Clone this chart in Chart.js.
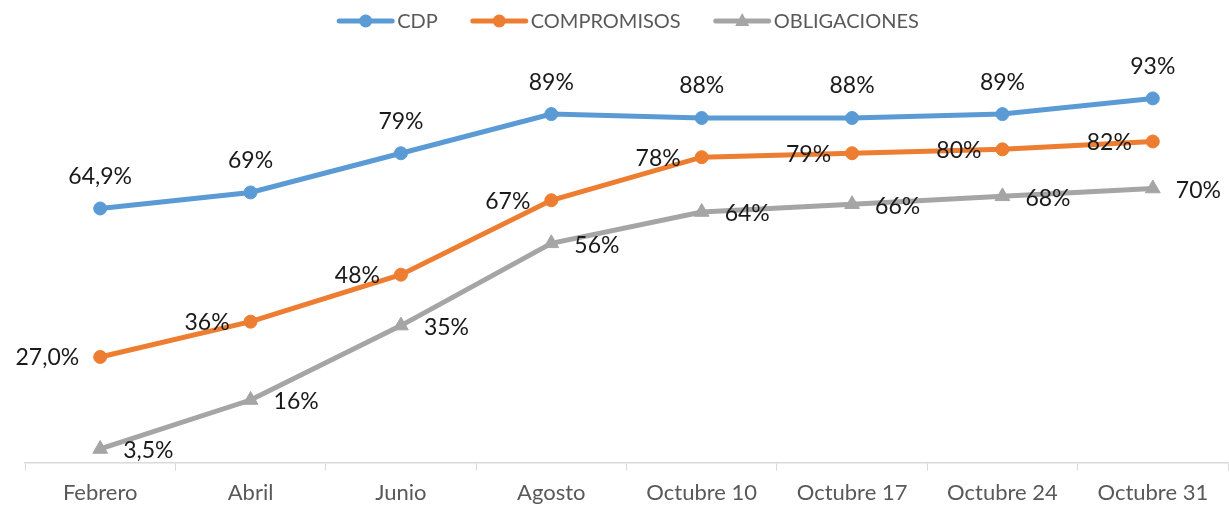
<!DOCTYPE html>
<html>
<head>
<meta charset="utf-8">
<script src="https://cdn.jsdelivr.net/npm/chart.js@4"></script>
<style>
html,body{margin:0;padding:0;background:#fff;overflow:hidden;}
#wrap{width:1229px;height:506px;}
canvas{display:block;}
</style>
</head>
<body>
<div id="wrap"><canvas id="c" width="1229" height="506"></canvas></div>
<script>
const categories = ["Febrero","Abril","Junio","Agosto","Octubre 10","Octubre 17","Octubre 24","Octubre 31"];
const cdp = [64.9, 69, 79, 89, 88, 88, 89, 93];
const compromisos = [27.0, 36, 48, 67, 78, 79, 80, 82];
const obligaciones = [3.5, 16, 35, 56, 64, 66, 68, 70];
const seriesNames = ["CDP","COMPROMISOS","OBLIGACIONES"];

function fmt(v, i){
  if (i === 0) return v.toFixed(1).replace('.', ',') + '%';
  return Math.round(v) + '%';
}

const labelPlugin = {
  id: 'valLabels',
  afterDatasetsDraw(chart){
    const ctx = chart.ctx;
    ctx.save();
    ctx.font = '23px Lato';
    ctx.fillStyle = '#1a1a1a';
    chart.data.datasets.forEach((ds, di) => {
      const meta = chart.getDatasetMeta(di);
      meta.data.forEach((pt, i) => {
        const t = fmt(ds.data[i], i);
        if (ds.labelPos === 'top'){
          ctx.textAlign = 'center'; ctx.textBaseline = 'middle';
          ctx.fillText(t, pt.x, pt.y - 32);
        } else if (ds.labelPos === 'left'){
          ctx.textAlign = 'right'; ctx.textBaseline = 'middle';
          ctx.fillText(t, pt.x - 21, pt.y + 1);
        } else {
          ctx.textAlign = 'left'; ctx.textBaseline = 'middle';
          ctx.fillText(t, pt.x + 23, pt.y + 2);
        }
      });
    });
    ctx.restore();
  }
};

const legendPlugin = {
  id: 'customLegend',
  afterDraw(chart){
    const ctx = chart.ctx;
    ctx.save();
    ctx.font = '20px Lato';
    const lineW = 57, gapText = 3, gapItem = 33;
    const items = chart.data.datasets.map(ds => ({ds, w: lineW + gapText + ctx.measureText(ds.label).width}));
    const total = items.reduce((a, b) => a + b.w, 0) + gapItem * (items.length - 1);
    let x = 628 - total / 2;
    const y = 21;
    items.forEach(it => {
      const ds = it.ds;
      ctx.strokeStyle = ds.borderColor;
      ctx.lineWidth = 5;
      ctx.lineCap = 'round';
      ctx.beginPath(); ctx.moveTo(x + 2, y); ctx.lineTo(x + lineW - 2, y); ctx.stroke();
      ctx.fillStyle = ds.borderColor;
      const cx = x + lineW / 2;
      ctx.beginPath();
      if (ds.pointStyle === 'triangle'){
        ctx.moveTo(cx, y - 8); ctx.lineTo(cx + 7, y + 5); ctx.lineTo(cx - 7, y + 5); ctx.closePath();
      } else {
        ctx.arc(cx, y, 6.5, 0, Math.PI * 2);
      }
      ctx.fill();
      ctx.fillStyle = '#595959';
      ctx.textAlign = 'left'; ctx.textBaseline = 'middle';
      ctx.fillText(ds.label, x + lineW + gapText, y + 1);
      x += it.w + gapItem;
    });
    ctx.restore();
  }
};

function mk(label, data, color, style, pos, radius){
  return {
    label, data, borderColor: color, backgroundColor: color,
    borderWidth: 5, pointStyle: style, pointRadius: radius, pointHoverRadius: radius,
    pointBorderWidth: 1, pointBackgroundColor: color, pointBorderColor: color,
    tension: 0, fill: false, labelPos: pos, clip: false
  };
}

new Chart(document.getElementById('c'), {
  type: 'line',
  data: {
    labels: categories,
    datasets: [
      mk(seriesNames[0], cdp, '#5B9BD5', 'circle', 'top', 6.5),
      mk(seriesNames[1], compromisos, '#ED7D31', 'circle', 'left', 6.5),
      mk(seriesNames[2], obligaciones, '#A5A5A5', 'triangle', 'right', 8.5)
    ]
  },
  options: {
    responsive: false,
    animation: false,
    layout: { autoPadding: false, padding: { top: 71, left: 25, right: 1, bottom: 0 } },
    plugins: { legend: { display: false }, tooltip: { enabled: false } },
    scales: {
      x: {
        offset: true,
        grid: { display: true, drawOnChartArea: false, drawTicks: true, tickLength: 8, color: '#d9d9d9', lineWidth: 1, offset: true },
        border: { display: true, color: '#d9d9d9', width: 1.5 },
        ticks: { color: '#595959', font: { family: 'Lato', size: 22 }, padding: 9, maxRotation: 0, autoSkip: false },
        afterFit(scale){ scale.height = 43.3; scale.paddingLeft = 0; scale.paddingRight = 0; }
      },
      y: {
        display: false, min: 0, max: 100
      }
    }
  },
  plugins: [labelPlugin, legendPlugin]
});
</script>
</body>
</html>
